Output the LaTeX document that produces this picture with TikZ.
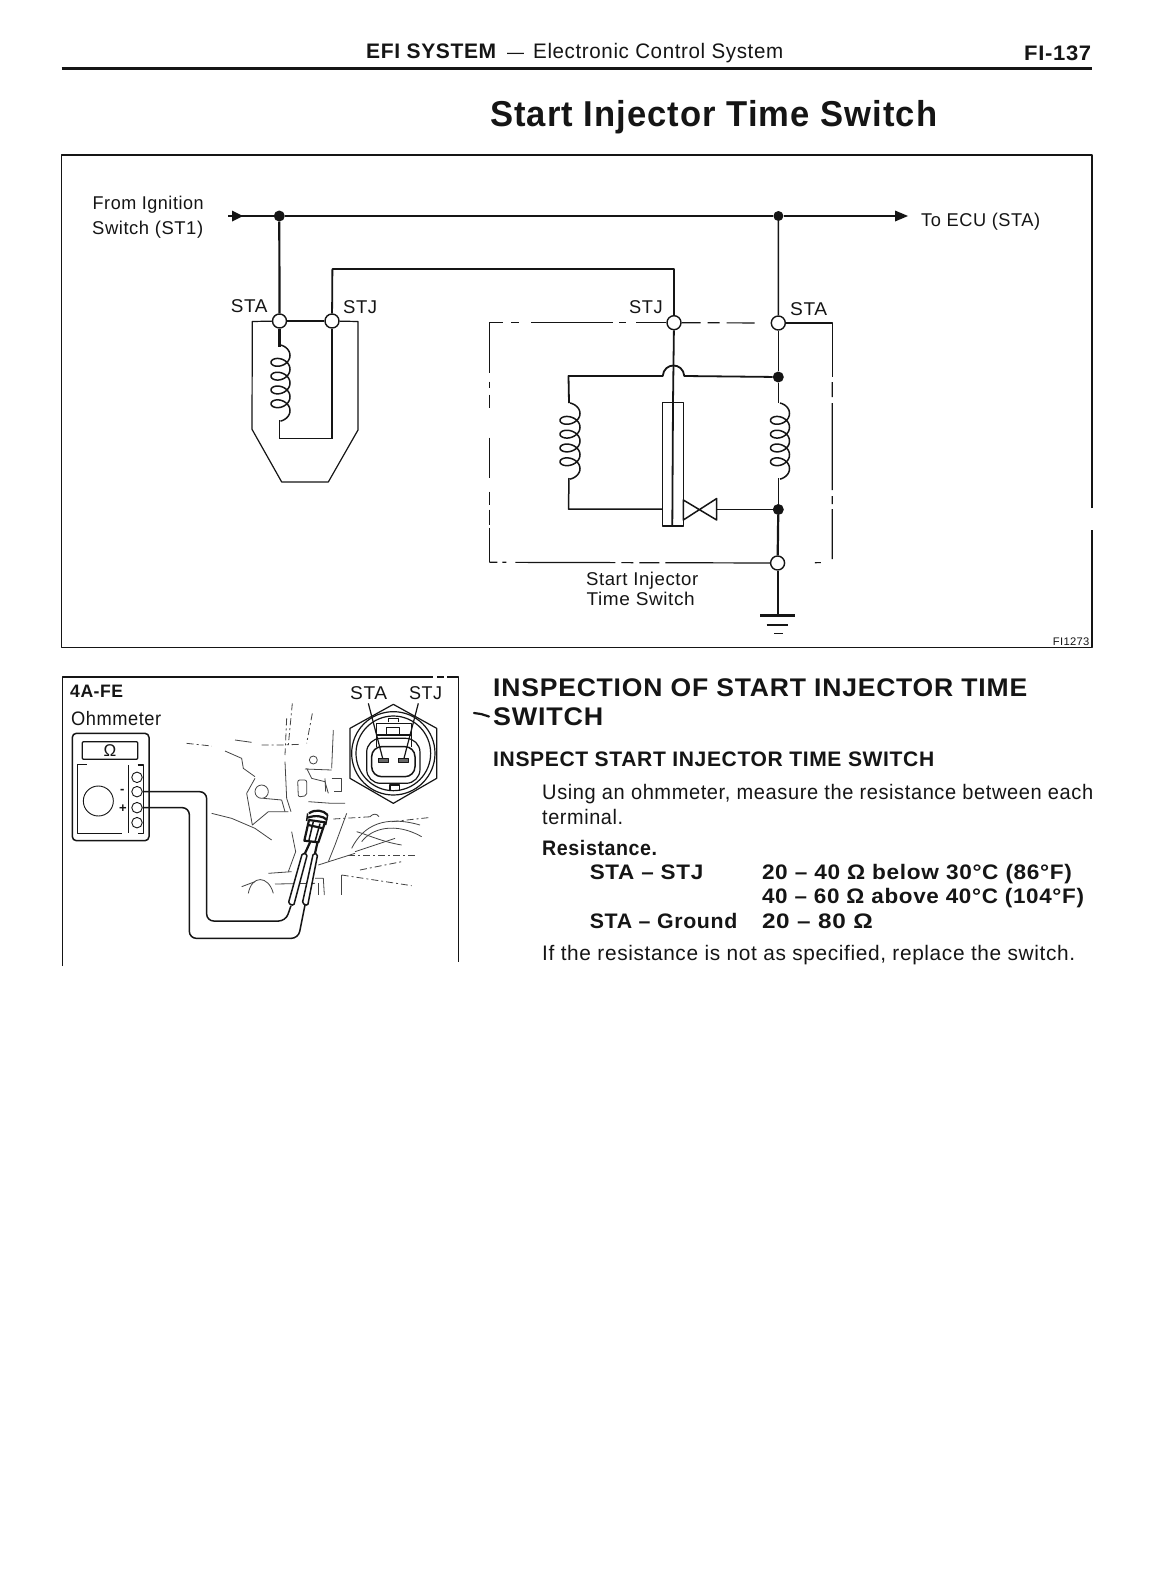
\documentclass[tikz,border=0pt]{standalone}
\usepackage{fontspec}
\usepackage{graphicx}
\setmainfont{Liberation Sans}[LetterSpace=3]
\newcommand{\txt}[6]{\node[anchor=base west,inner sep=0pt,text=ink] (#1) at (#2,#3) {\resizebox{#4pt}{\height}{\fontsize{#5pt}{#5pt}\selectfont #6}};}
\newcommand{\coilat}[3]{% centre x, top y, radius x
  \draw[wire] plot[smooth,samples=145,domain=-90:1530,variable=\ang] ({#1+#3*cos(\ang)},{#2+0.03833*(\ang+90)+7*(sin(\ang)+1)});}
\definecolor{ink}{HTML}{151515}
\tikzset{
  wire/.style={draw=ink,line width=1.5pt,line join=round},
  heavy/.style={draw=ink,line width=2.2pt,line join=round},
  thin line/.style={draw=ink,line width=1.2pt,line join=round},
  sketch/.style={draw=ink!80,line width=.8pt,line join=round},
  sketchd/.style={sketch,dash pattern=on 7pt off 3pt on 2pt off 3pt},
  term/.style={circle,draw=ink,line width=1.4pt,fill=white,minimum size=14pt,inner sep=0pt},
  dot/.style={circle,fill=ink,minimum size=11pt,inner sep=0pt},
  jack/.style={circle,draw=ink,line width=.9pt,fill=white,minimum size=10.5pt,inner sep=0pt},
}
\begin{document}
\begin{tikzpicture}[x=1pt,y=-1pt]
\useasboundingbox (0,0) rectangle (1151,1579);
\fill[white] (0,0) rectangle (1151,1579);
% header
\txt{hA}{366}{59}{130}{21}{\bfseries EFI SYSTEM}
\txt{hB}{507}{59}{17}{18}{–}
\txt{hC}{533}{59}{250}{21}{Electronic Control System}
\txt{hD}{1024}{60}{67}{21}{\bfseries FI-137}
\draw[heavy] (61.5,68.5) -- (1092,68.5);
\txt{title}{490}{126}{447}{36}{\bfseries Start Injector Time Switch}
% main frame
\draw[thin line] (1092,508) -- (1092,155) -- (61.7,155) -- (61.7,647.7) -- (1092,647.7) -- (1092,530);
\txt{fromA}{92.5}{209}{111}{18.5}{From Ignition}
\txt{fromB}{92}{234}{111}{18.5}{Switch (ST1)}
\txt{toecu}{921}{226}{119}{18.5}{To ECU (STA)}
\txt{fig}{1052.7}{645}{36.5}{11}{FI1273}
% terminals and junctions
\node[dot] (j1) at (279.3,216) {};
\node[dot,minimum size=10pt] (j2) at (778.4,216) {};
\node[term] (staL) at (279.5,321) {};
\node[term] (stjL) at (332,321) {};
\node[term] (stjR) at (674,322.7) {};
\node[term] (staR) at (778.3,323) {};
\node[dot] (d1) at (778.3,377) {};
\node[dot] (d2) at (778.3,509.5) {};
\node[term] (staG) at (777.6,563) {};
\coordinate (inp) at (228,216);
\coordinate (outp) at (908,216);
\coordinate (b1) at (332.4,269);
\coordinate (b2) at (674,269);
% input and output line
\draw[wire,line width=1.8pt] (inp) -- (j1);
\fill[ink] (243,216) -- (232,210.5) -- (232,221.5) -- cycle;
\draw[wire,line width=1.8pt] (j1) -- (j2);
\draw[wire,line width=1.8pt] (j2) -- (897,216);
\fill[ink] (outp) -- (895,210.5) -- (895,221.5) -- cycle;
\draw[heavy] (j1) -- (staL);
\draw[wire] (j2) -- (staR);
\draw[wire,line width=1.8pt] (stjL) -- (b1) -- (b2) -- (stjR);
% left switch body
\draw[thin line] (staL) -- (252.3,321.5) -- (252,429.3) -- (281.7,482) -- (328.3,482) -- (358,430) -- (358,321.5) -- (stjL);
\draw[thin line] (staL) -- (stjL);
\draw[heavy] (staL) -- (279.5,347);
\coilat{280.5}{345}{9.5}
\coordinate (c1e) at (279.5,420);
\coordinate (c1f) at (279.5,438.5);
\coordinate (c1g) at (332,438.5);
\draw[wire] (c1e) -- (c1f);
\draw[wire,line width=1.8pt] (c1f) -- (c1g);
\draw[heavy] (c1g) -- (stjL);
\txt{lA}{230.7}{312}{36.5}{18.5}{STA}
\txt{lB}{343}{313}{34}{18.5}{STJ}
% right switch dashed outline
\draw[thin line,dash pattern=on 14pt off 8pt on 8pt off 12pt on 82pt off 6pt on 7pt off 10pt on 40pt] (489.3,322.7) -- (stjR);
\draw[thin line,dash pattern=on 19pt off 7pt on 12pt off 7pt on 28pt] (stjR) -- (staR);
\draw[thin line] (staR) -- (832.3,323) -- (832.3,377);
\draw[thin line,dash pattern=on 15pt off 6pt on 87pt off 6pt on 8pt off 5pt on 50pt] (832.3,382) -- (832.3,562.5) -- (staG);
\draw[thin line,dash pattern=on 50pt off 9pt on 6pt off 7pt on 13pt off 30pt on 40pt off 14pt on 13pt off 5pt on 15pt off 3pt on 40pt] (489.3,322.7) -- (489.3,562.3);
\draw[thin line,dash pattern=on 8pt off 5pt on 4pt off 9pt on 100pt off 6pt on 12pt off 6pt on 20pt off 6pt on 150pt] (489.3,562.3) -- (staG);
% right switch internals
\draw[wire] (staR) -- (d1);
\draw[wire] (d1) -- (778.3,403);
\coilat{780}{403}{9.5}
\draw[wire] (778.3,478) -- (d2);
\draw[heavy] (d2) -- (staG);
\coordinate (g1) at (777.6,615.5);
\draw[heavy] (staG) -- (g1);
\draw[heavy] (760,615.5) -- (795,615.5);
\draw[thin line] (766.7,625) -- (788,625);
\draw[thin line] (774,633.3) -- (783,633.3);
\coordinate (c2a) at (568.5,376);
\coordinate (c2b) at (568.5,509);
\coordinate (h1) at (662.7,376);
\coordinate (h2) at (684.3,376);
\draw[wire,line width=1.8pt] (569,403) -- (c2a) -- (h1) .. controls (664,362) and (683,362) .. (h2) -- (d1);
\coilat{570}{403}{10}
\draw[wire] (569,478) -- (c2b) -- (662.7,509);
% bimetal
\draw[wire,fill=white] (662.7,402.7) rectangle (683.3,526);
\draw[wire,line width=1.8pt] (stjR) -- (673,402.7) -- (672.3,526);
\draw[wire,line width=1.8pt] (662.7,526) -- (683.3,526);
% contacts
\draw[wire] (683.3,500) -- (716.7,520) -- (716.7,498.5) -- (683.3,520) -- cycle;
\draw[wire,line width=1.8pt] (716.7,509.5) -- (d2);
\txt{rA}{629}{313.5}{33.5}{18.5}{STJ}
\txt{rB}{790}{315}{37}{18.5}{STA}
\txt{sA}{586}{585.7}{112}{18.5}{Start Injector}
\txt{sB}{586.5}{605.7}{108}{18.5}{Time Switch}
% lower left panel
\draw[thin line] (62.3,966) -- (62.3,677) -- (433,677);
\draw[thin line] (437,677) -- (444,677);
\draw[thin line] (447,677) -- (458.3,677) -- (458.3,962);
\txt{pA}{70}{697.3}{53}{18}{\bfseries 4A-FE}
\txt{pB}{71}{725}{90}{19.5}{Ohmmeter}
\txt{pC}{350}{699}{37}{18.5}{STA}
\txt{pD}{409}{699}{33}{18.5}{STJ}
% ohmmeter
\begin{scope}[shift={(55,665)},x=.33333pt,y=-.33333pt]
\draw[wire,rounded corners=4pt] (52,205) rectangle (282,527);
\draw[thin line,rounded corners=1pt] (82,230) rectangle (248,283);
\node[inner sep=0pt,text=ink,font=\fontsize{17pt}{17pt}\selectfont] (ohm) at (165,258) {Ω};
\draw[thin line] (95,298) -- (68,298) -- (68,505) -- (200,505);
\draw[thin line] (220,300) -- (220,505);
\draw[thin line] (248,300) -- (265,300) -- (265,505) -- (248,505);
\node[circle,draw=ink,line width=.9pt,minimum size=30pt,inner sep=0pt] (dial) at (130,408) {};
\node[jack] (t1) at (246,337) {};
\node[jack] (t2) at (246,380) {};
\node[jack] (t3) at (246,428) {};
\node[jack] (t4) at (246,473) {};
\node[inner sep=0pt,text=ink,font=\fontsize{13pt}{13pt}\selectfont\bfseries] (minus) at (202,380) {-};
\node[inner sep=0pt,text=ink,font=\fontsize{13pt}{13pt}\selectfont\bfseries] (plus) at (204,430) {+};
% leads
\coordinate (pr1) at (708,722);
\coordinate (pr2) at (750,720);
\draw[wire,rounded corners=7pt] (t2) -- (455,380) -- (455,768) -- (692,768) -- (pr1);
\draw[wire,rounded corners=7pt] (t3) -- (403,428) -- (403,820) -- (730,820) -- (pr2);
% engine sketch
\draw[sketchd] (395,235) -- (470,243);
\draw[sketch] (510,258) -- (560,280) -- (565,310) -- (600,335);
\draw[sketch] (540,225) -- (590,232);
\draw[sketchd] (620,240) -- (680,240) -- (735,238);
\draw[sketchd] (712,115) -- (700,240);
\draw[sketchd] (695,160) -- (690,270);
\draw[sketchd] (772,145) -- (755,235);
\draw[sketch] (835,195) -- (830,310);
\draw[sketch] (690,290) -- (695,400) -- (708,440);
\draw[sketch] (600,340) -- (575,385) -- (592,480) -- (640,440) -- (700,440);
\draw[sketch] (620,380) circle (20);
\draw[sketch] (625,400) -- (680,405) -- (690,440);
\draw[sketch] (470,445) -- (530,460) -- (600,490) -- (650,525);
\draw[sketch,rounded corners=2pt] (728,345) -- (755,345) -- (755,392) -- (730,396) -- cycle;
\draw[sketch] (775,285) circle (12);
\draw[sketch] (750,312) -- (830,315);
\draw[sketch] (755,310) -- (770,340) -- (810,350) -- (820,385);
\draw[sketch] (830,340) -- (860,340) -- (860,380) -- (838,380);
\draw[sketch] (810,340) -- (812,380);
\draw[sketch] (760,410) -- (830,415) -- (870,415);
\draw[sketch] (875,445) -- (840,540) -- (820,590);
\draw[sketch] (710,500) -- (722,560) -- (700,620);
\draw[sketchd] (835,462) -- (950,455);
\draw[sketch] (890,550) .. controls (925,480) and (990,450) .. (1095,480);
\draw[sketch] (920,530) .. controls (950,490) and (1020,470) .. (1100,515);
\draw[sketch] (905,500) .. controls (940,510) and (980,530) .. (1040,540);
\draw[sketch] (900,560) -- (1020,520);
\draw[sketch] (945,455) .. controls (955,445) and (965,445) .. (972,455);
\draw[sketchd] (1010,470) -- (1120,458);
\draw[sketch] (790,600) -- (900,565);
\draw[sketchd] (880,572) -- (1090,572);
\draw[sketchd] (915,615) -- (1040,590);
\draw[sketch] (780,640) -- (805,640) -- (808,690);
\draw[sketch] (580,685) .. controls (590,630) and (640,630) .. (655,685);
\draw[sketch] (560,665) -- (600,650);
\draw[sketch] (640,625) -- (710,620);
\draw[sketch] (660,657) -- (780,655);
\draw[sketch] (790,655) -- (790,690);
\draw[sketch,line width=1pt] (858,630) -- (858,690);
\draw[sketchd] (860,630) -- (1070,662);
% probes
\draw[wire,fill=white,rounded corners=1.5pt] (700,715) -- (742,565) -- (757,568) -- (716,722) -- cycle;
\draw[wire,fill=white,rounded corners=1.5pt] (742,715) -- (775,565) -- (788,568) -- (758,722) -- cycle;
\draw[heavy] (750,565) -- (766,530);
\draw[heavy] (780,565) -- (788,530);
% connector
\draw[heavy,fill=white] (748,527) -- (762,465) -- (810,472) -- (790,532) -- cycle;
\draw[heavy] (762,445) .. controls (780,432) and (805,435) .. (818,450);
\draw[heavy] (758,458) .. controls (780,450) and (805,452) .. (816,465);
\draw[wire] (755,468) -- (758,445);
\draw[wire] (818,450) -- (812,480);
\draw[wire] (775,470) -- (762,525);
\draw[wire] (795,476) -- (780,530);
\draw[heavy] (760,480) -- (805,490);
% sensor face
\draw[thin line] (1015,118) -- (1145,190) -- (1145,340) -- (1015,415) -- (885,340) -- (885,190) -- cycle;
\draw[thin line] (1015,265) circle (125);
\draw[thin line] (1015,265) circle (112);
\draw[thin line,rounded corners=14pt] (935,220) rectangle (1095,355);
\draw[wire,rounded corners=10pt] (950,245) rectangle (1080,335);
\draw[thin line] (1000,172) -- (1000,160) -- (1030,160) -- (1030,172);
\draw[wire] (965,245) -- (965,175) -- (1070,175) -- (1070,245);
\draw[wire] (965,210) -- (1070,210);
\draw[wire,fill=white] (995,187) rectangle (1033,210);
\draw[thin line] (1005,360) rectangle (1033,377);
\draw[wire,fill=ink!65] (970,280) rectangle (1000,292);
\draw[wire,fill=ink!65] (1030,280) rectangle (1060,292);
\coordinate (lead1) at (940,115);
\coordinate (lead2) at (1090,115);
\draw[thin line] (lead1) -- (983,280);
\draw[thin line] (lead2) -- (1047,280);
\end{scope}
% right column
\draw[ink,line width=2.2pt,line cap=round] (474,713) -- (481,714) -- (489,716.5);
\txt{iA}{493}{696.7}{534}{25.5}{\bfseries INSPECTION OF START INJECTOR TIME}
\txt{iB}{493}{725.7}{110}{25.5}{\bfseries SWITCH}
\txt{iC}{493}{766.7}{441}{21}{\bfseries INSPECT START INJECTOR TIME SWITCH}
\txt{iD}{542}{799.3}{551}{21}{Using an ohmmeter, measure the resistance between each}
\txt{iE}{542}{824}{81}{21}{terminal.}
\txt{iF}{542}{855}{115}{21}{\bfseries Resistance.}
\txt{iG}{589.6}{879.3}{113.5}{21}{\bfseries STA – STJ}
\txt{iH}{761.8}{879.3}{310}{21}{\bfseries 20 – 40 Ω below 30°C (86°F)}
\txt{iI}{761.8}{903}{322}{21}{\bfseries 40 – 60 Ω above 40°C (104°F)}
\txt{iJ}{589.6}{928.3}{147.5}{21}{\bfseries STA – Ground}
\txt{iK}{761.8}{928.3}{111}{21}{\bfseries 20 – 80 Ω}
\txt{iL}{542}{960}{533}{21}{If the resistance is not as specified, replace the switch.}
\end{tikzpicture}
\end{document}
